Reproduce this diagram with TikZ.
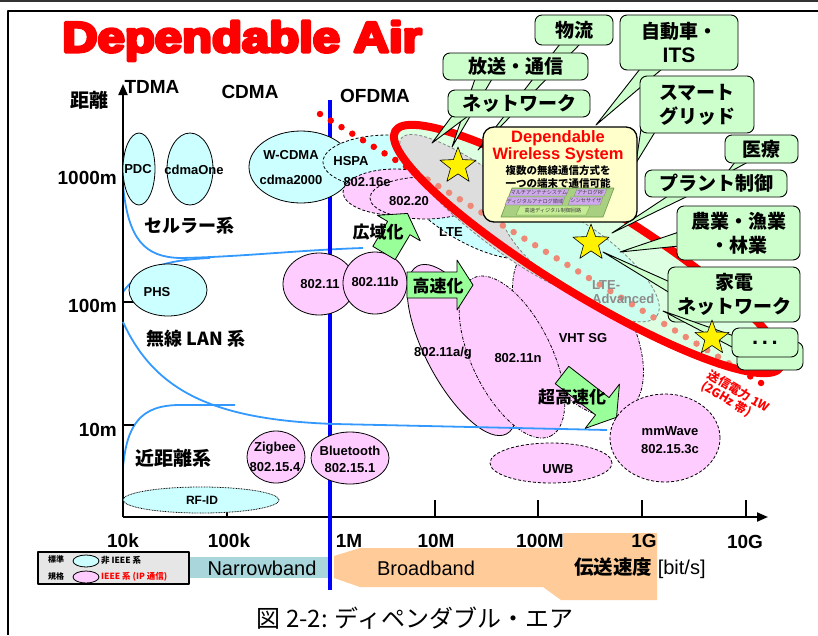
\documentclass[tikz,border=0pt]{standalone}
\usepackage{fontspec}
\usepackage{graphicx}
\setmainfont{Liberation Sans}
\newfontfamily\jp{Noto Sans CJK JP}
\newfontfamily\titlefont{Liberation Sans}[UprightFont={* Bold},FakeBold=7]
\usetikzlibrary{shapes.geometric,arrows.meta}
\newcommand\fsz[1]{\fontsize{#1}{#1}\selectfont}
\definecolor{callgreen}{HTML}{CCFFCC}
\definecolor{cyanfill}{HTML}{CCFFFF}
\definecolor{pinkfill}{HTML}{FFCCFF}
\definecolor{arrowgreen}{HTML}{99FF99}
\definecolor{dwsfill}{HTML}{FFFFCC}
\definecolor{redin}{HTML}{DDFFE2}
\definecolor{ltea}{HTML}{CCFFEE}
\definecolor{grayfill}{HTML}{DDDDDD}
\definecolor{mysalmon}{HTML}{EE8877}
\definecolor{lightblue}{HTML}{3399FF}
\definecolor{tealband}{HTML}{A9D6DA}
\definecolor{peach}{HTML}{FFCC99}
\definecolor{legendgray}{HTML}{E6E6E6}
\definecolor{boardgreen}{HTML}{A8D080}
\definecolor{boarddark}{HTML}{6A9A4A}
\definecolor{chiplav}{HTML}{CFA8EE}
\definecolor{chipgreen}{HTML}{C4EC94}
\newcommand\blockarr[6]{%
  \begin{scope}[shift={(#1)},rotate=#2]
    \filldraw[garrow] (0,#4) -- (#6,#4) -- (#6,#5) -- (#3,0) -- (#6,-#5) -- (#6,-#4) -- (0,-#4) -- cycle;
  \end{scope}}
\tikzset{
  ell/.style={ellipse, draw=black, line width=0.8, inner sep=0},
  cy/.style={ell, fill=cyanfill},
  pk/.style={ell, fill=pinkfill},
  dsh/.style={dash pattern=on 3pt off 2pt},
  dshdot/.style={dash pattern=on 3pt off 1.5pt on 0.8pt off 1.5pt},
  lbl/.style={font=\bfseries\fsz{13}, inner sep=0},
  tl/.style={font=\bfseries\fsz{19}, inner sep=0},
  jplbl/.style={font=\jp\bfseries\fsz{19}, inner sep=0},
  arrlbl/.style={font=\jp\bfseries\fsz{17}, inner sep=0},
  lb/.style={draw=lightblue, line width=1.8},
  callbox/.style={draw=black, line width=0.9, fill=callgreen, rounded corners=7, inner sep=0, align=center, font=\jp\bfseries\fontsize{19}{24}\selectfont},
  wedge/.style={fill=callgreen, draw=black, line width=0.9},
  garrow/.style={fill=arrowgreen, draw=black, line width=0.8},
  starsty/.style={star, star points=5, star point ratio=2.4, minimum size=38, fill=yellow, draw=black, line width=0.6, inner sep=0},
  chiptxt/.style={font=\jp\fsz{5.2}, inner sep=0, text=black!75},
  dotline/.style={line width=6.5, line cap=round, dash pattern=on 0pt off 12.6pt},
  redrot/.style={rotate around={-31.5:(588,249)}},
}
\begin{document}
\begin{tikzpicture}[x=1pt,y=-1pt,line join=round]
\useasboundingbox (0,0) rectangle (818,635);
\fill[white] (0,0) rectangle (818,635);

% frame
\draw[line width=1.2, black!80] (0,1) -- (818,1);
\draw[line width=1.6] (818,11) -- (8,11) -- (8,635);

% title
\node[anchor=base west, inner sep=0, text=red, font=\titlefont\fsz{43}] (title) at (62,52) {\scalebox{1.14}[1]{Dependable Air}};

% bottom bands
\fill[tealband] (187,557) rectangle (331,578);
\fill[peach] (334,556) -- (360,548) -- (563,548) -- (563,533) -- (657,533) -- (657,600) -- (561,600) -- (543,587) -- (360,587) -- (334,578) -- cycle;
\node[font=\fsz{20}, inner sep=0] (nb) at (262,568) {Narrowband};
\node[font=\fsz{20}, inner sep=0] (bb) at (426,568) {Broadband};
\node[anchor=west, font=\fsz{20}, inner sep=0] (speed) at (574,568) {{\jp\bfseries\fsz{19.5}伝送速度} [bit/s]};

% legend
\node[draw=black, line width=1.2, fill=legendgray, minimum width=151, minimum height=32, inner sep=0] (legend) at (113.5,568) {};
\node[font=\jp\bfseries\fsz{8}, inner sep=0] (std1) at (56,559.5) {標準};
\node[font=\jp\bfseries\fsz{8}, inner sep=0] (std2) at (56,576.5) {規格};
\node[cy, minimum width=26, minimum height=12] (legc) at (86,561) {};
\node[pk, minimum width=26, minimum height=12] (legp) at (86,577) {};
\node[anchor=west, font=\jp\bfseries\fsz{8.5}, inner sep=0] (legct) at (101,560.5) {非 IEEE 系};
\node[anchor=west, font=\jp\bfseries\fsz{8.5}, inner sep=0, text=red] (legpt) at (101,577) {IEEE 系 (IP 通信)};

% light blue boundaries
\draw[lb] (123,185) .. controls (128,240) and (145,257) .. (180,258) .. controls (240,257) and (300,250) .. (363,248);
\draw[lb] (123,292) .. controls (140,268) and (165,260) .. (210,258);
\draw[lb] (123,467) .. controls (127,425) and (140,405) .. (180,405) -- (235,405);

% axes
\coordinate (O) at (123,517);
\coordinate (ytop) at (123,84);
\coordinate (xend) at (768,517);
\draw[line width=2, -{Triangle[length=11pt,width=9pt]}] (O) -- (ytop);
\draw[line width=2, -{Triangle[length=11pt,width=9pt]}] (O) -- (xend);
\foreach \x in {227,331,435,538,642,746} \draw[line width=1.6] (\x,517) -- (\x,500);
\draw[line width=1.6] (123,302) -- (134,302);
\draw[line width=1.6] (123,425) -- (134,425);
\node[tl] (t1) at (123,541) {10k};
\node[tl] (t2) at (229,541) {100k};
\node[tl] (t3) at (349,541) {1M};
\node[tl] (t4) at (436,541) {10M};
\node[tl] (t5) at (540,541) {100M};
\node[tl] (t6) at (644,541) {1G};
\node[tl] (t7) at (745,542) {10G};
\node[tl, anchor=east] (y1) at (117,178) {1000m};
\node[tl, anchor=east] (y2) at (117,306) {100m};
\node[tl, anchor=east] (y3) at (117,430) {10m};
\node[jplbl] (kyori) at (89,100) {距離};
\node[tl] (tdma) at (152,87) {TDMA};
\node[tl] (cdma) at (250,92) {CDMA};
\node[tl] (ofdma) at (375,96) {OFDMA};
\node[jplbl, font=\jp\bfseries\fsz{18}] (cell) at (189,226) {セルラー系};
\node[jplbl, font=\jp\bfseries\fsz{18}] (wlan) at (196,339) {無線 LAN 系};
\node[jplbl] (near) at (173,458) {近距離系};

% blue divider
\coordinate (bl1) at (330,100);
\coordinate (bl2) at (330,590);
\draw[blue, line width=4] (bl1) -- (bl2);

% cyan ellipses
\node[cy, minimum width=32, minimum height=72] (pdc) at (139,169) {};
\node[cy, minimum width=46, minimum height=72] (cdmaone) at (190,169) {};
\node[cy, minimum width=78, minimum height=52] (phs) at (168,290) {};
\node[cy, minimum width=156, minimum height=26, dash pattern=on 0.8pt off 0.8pt] (rfid) at (201,500) {};
\node[cy, minimum width=104, minimum height=72] (wcdma) at (301,167) {};
\node[cy, dsh, minimum width=130, minimum height=54] (hspa) at (388,162) {};
\node[cy, dsh, minimum width=156, minimum height=60, rotate=-30] (lte) at (470,212) {};
% pink ellipses
\node[pk, dsh, minimum width=104, minimum height=46] (w16e) at (395,192) {};
\node[pk, dsh, minimum width=110, minimum height=42] (w20) at (425,198) {};
\node[pk, dshdot, minimum width=190, minimum height=104, rotate=-60] (vht) at (578,330) {};
\node[pk, minimum width=190, minimum height=72, rotate=-62] (w11ag) at (462,350) {};
\node[pk, dshdot, minimum width=176, minimum height=80, rotate=-64] (w11n) at (512,357) {};
\node[pk, minimum width=72, minimum height=62] (w11) at (319,284) {};
\node[pk, minimum width=64, minimum height=62] (w11b) at (375,283) {};
\node[pk, minimum width=58, minimum height=52] (zig) at (276,457) {};
\node[pk, minimum width=78, minimum height=52] (bt) at (350,458) {};
\node[pk, dsh, minimum width=122, minimum height=40] (uwb) at (551,463) {};
\node[pk, dsh, minimum width=110, minimum height=88] (mmw) at (665,438) {};

% LAN boundary
\draw[lb] (123,322) .. controls (155,392) and (215,420) .. (335,424) -- (607,430);

% transmit-power dots
\coordinate (dotA) at (320,114);
\coordinate (dotB) at (766,386);
\draw[red, dotline] (dotA) -- (dotB);

% dependable air ellipse
\fill[redin, redrot] (588,249) ellipse [x radius=226, y radius=45];
\node[ell, dsh, draw=gray, fill=grayfill, minimum width=250, minimum height=60, rotate=-38] (grayell) at (500,215) {};
\node[ell, dsh, draw=gray, fill=ltea, minimum width=190, minimum height=66, rotate=-36] (ltea) at (580,260) {};
\begin{scope}
  \clip[redrot] (588,249) ellipse [x radius=226, y radius=45];
  \draw[mysalmon, dotline] (dotA) -- (dotB);
\end{scope}
\node[anchor=west, align=left, font=\bfseries\fontsize{13}{14}\selectfont, text=black!45, inner sep=0] (lteal) at (592,292) {LTE-\\Advanced};
\draw[red, line width=8, redrot] (588,249) ellipse [x radius=226, y radius=45];

% ellipse labels
\node[lbl] at (138,169) {PDC};
\node[lbl] at (194,170) {cdmaOne};
\node[lbl] at (157,292) {PHS};
\node[lbl, font=\bfseries\fsz{12}] at (202,500) {RF-ID};
\node[lbl] at (291,155) {W-CDMA};
\node[lbl] at (291,180) {cdma2000};
\node[lbl] at (351,161) {HSPA};
\node[lbl] at (367,182) {802.16e};
\node[lbl] at (409,201) {802.20};
\node[lbl] at (451,232) {LTE};
\node[lbl] at (320,284) {802.11};
\node[lbl] at (375,282) {802.11b};
\node[lbl] at (443,353) {802.11a/g};
\node[lbl] at (518,358) {802.11n};
\node[lbl] at (583,338) {VHT SG};
\node[lbl] at (670,431) {mmWave};
\node[lbl] at (670,449) {802.15.3c};
\node[lbl] at (558,469) {UWB};
\node[lbl] at (275,448) {Zigbee};
\node[lbl] at (275,467) {802.15.4};
\node[lbl] at (350,451) {Bluetooth};
\node[lbl] at (350,468) {802.15.1};

% green block arrows
\blockarr{384,253}{59.3}{46}{13}{25}{29}
\blockarr{407,285}{0}{66}{13}{25}{50}
\blockarr{562,375}{-37.8}{69}{11}{28}{51}
\node[arrlbl] (kouiki) at (378,232) {広域化};
\node[arrlbl] (kousoku) at (438,286) {高速化};
\node[arrlbl] (choukou) at (572,397) {超高速化};

% callouts
\filldraw[wedge] (560,44) -- (478,150) -- (580,44) -- cycle;
\node[callbox, minimum width=78, minimum height=30] (butsu) at (574,30) {物流};
\filldraw[wedge] (475,79) -- (452,147) -- (492,79) -- cycle;
\node[callbox, minimum width=145, minimum height=27] (hoso) at (515.5,66.5) {放送・通信};
\filldraw[wedge] (452,116) -- (432,143) -- (468,116) -- cycle;
\node[callbox, minimum width=142, minimum height=27] (netw) at (519,103.5) {ネットワーク};
\filldraw[wedge] (640,69) -- (596,125) -- (662,69) -- cycle;
\node[callbox, minimum width=118, minimum height=55] (auto) at (679,42.5) {自動車・\\{\rmfamily\fsz{21}ITS}};
\filldraw[wedge] (642,122) -- (636,163) -- (655,132) -- cycle;
\node[callbox, minimum width=114, minimum height=57] (smart) at (697,104.5) {スマート\\グリッド};
\filldraw[wedge] (735,162) -- (726,174) -- (748,162) -- cycle;
\node[callbox, minimum width=73, minimum height=28] (iryo) at (761.5,149) {医療};
\filldraw[wedge] (668,196) -- (612,233) -- (688,196) -- cycle;
\node[callbox, minimum width=142, minimum height=27] (plant) at (716,183.5) {プラント制御};
\filldraw[wedge] (679,232) -- (620,252) -- (679,246) -- cycle;
\node[callbox, minimum width=123, minimum height=54] (agri) at (738.5,233) {農業・漁業\\・林業};
\filldraw[wedge] (670,282) -- (603,252) -- (670,293) -- cycle;
\node[callbox, minimum width=132, minimum height=55] (kaden) at (734,294.5) {家電\\ネットワーク};
\filldraw[wedge] (734,336) -- (663,311) -- (734,348) -- cycle;
\node[callbox, minimum width=66, minimum height=28] (etc2) at (770,356) {};
\node[callbox, minimum width=66, minimum height=29, font=\bfseries\fsz{22}] (etc1) at (765,342.5) {.\,.\,.};

% dependable wireless system box
\node[draw=black, line width=1.3, fill=dwsfill, rounded corners=11, minimum width=154, minimum height=95, inner sep=0] (dws) at (560,174.5) {};
\node[font=\bfseries\fsz{16.5}, text=red, inner sep=0] (dws1) at (558,138) {Dependable};
\node[font=\bfseries\fsz{16.5}, text=red, inner sep=0] (dws2) at (558,155) {Wireless System};
\node[font=\jp\bfseries\fsz{10.5}, inner sep=0] (dws3) at (558,171) {複数の無線通信方式を};
\node[font=\jp\bfseries\fsz{10.5}, inner sep=0] (dws4) at (558,183) {一つの端末で通信可能};
\filldraw[fill=boardgreen, draw=boarddark, line width=0.6] (501,217) -- (603,217) -- (614,188) -- (512,188) -- cycle;
\filldraw[fill=chiplav, draw=boarddark, line width=0.3] (509,196) -- (566,196) -- (569,189) -- (512,189) -- cycle;
\filldraw[fill=chiplav, draw=boarddark, line width=0.3] (574,196) -- (604,196) -- (607,189) -- (577,189) -- cycle;
\filldraw[fill=chiplav, draw=boarddark, line width=0.3] (505,205) -- (562,205) -- (565,197) -- (508,197) -- cycle;
\filldraw[fill=chiplav, draw=boarddark, line width=0.3] (568,205) -- (600,205) -- (603,197) -- (571,197) -- cycle;
\filldraw[fill=chipgreen, draw=boarddark, line width=0.3] (516,215) -- (586,215) -- (590,206) -- (520,206) -- cycle;
\node[chiptxt] at (539,192.5) {マルチアンテナシステム};
\node[chiptxt] at (590.5,192.5) {アナログRF};
\node[chiptxt] at (535,201) {ディジタルアナログ領域};
\node[chiptxt] at (586,201) {シンセサイザ};
\node[chiptxt] at (553,210.5) {高速ディジタル制御回路};

% stars
\node[starsty] (s1) at (458,166) {};
\node[starsty] (s2) at (591,243) {};
\node[starsty, minimum size=36] (s3) at (712,338) {};

% transmit power label
\node[anchor=north west, rotate=-31, align=left, text=red, font=\jp\bfseries\fontsize{12}{13}\selectfont, inner sep=0] (txp) at (712,368) {送信電力 1W\\(2GHz 帯)};

% caption
\node[font=\jp\fsz{24}, inner sep=0] (caption) at (415,618) {図 2-2: ディペンダブル・エア};
\end{tikzpicture}
\end{document}
